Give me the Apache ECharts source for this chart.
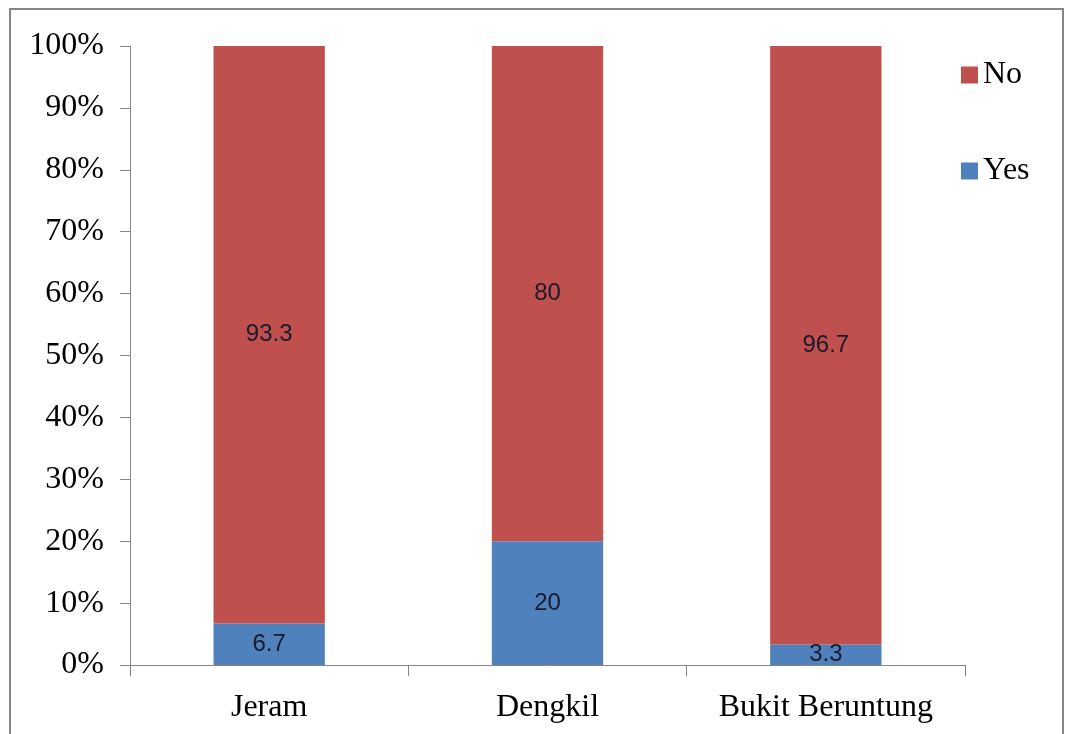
<!DOCTYPE html>
<html>
<head>
<meta charset="utf-8">
<script src="https://cdn.jsdelivr.net/npm/echarts@6/dist/echarts.min.js"></script>
<style>
html,body{margin:0;padding:0;background:#fff;}
#chart{width:1065px;height:734px;}
</style>
</head>
<body>
<div id="chart"></div>
<script>
const categories = ['Jeram', 'Dengkil', 'Bukit Beruntung'];
const yesValues = [6.7, 20, 3.3];
const noValues = [93.3, 80, 96.7];
const yTicks = [0, 10, 20, 30, 40, 50, 60, 70, 80, 90, 100];

const chart = echarts.init(document.getElementById('chart'));
const serif = '"Liberation Serif", "Times New Roman", serif';
const labelStyle = {
  show: true,
  position: 'inside',
  color: '#1a1a2e',
  fontFamily: '"Liberation Sans Narrow", "Liberation Sans", sans-serif',
  fontSize: 24
};
chart.setOption({
  animation: false,
  graphic: [{
    type: 'rect',
    shape: { x: 10, y: 9, width: 1053, height: 740 },
    style: { fill: 'none', stroke: '#868686', lineWidth: 2 },
    silent: true
  }],
  legend: {
    orient: 'vertical',
    left: 956,
    top: 54,
    itemWidth: 17,
    itemHeight: 17,
    itemGap: 64,
    icon: 'rect',
    data: ['No', 'Yes'],
    textStyle: { fontFamily: serif, fontSize: 32, color: '#000' }
  },
  grid: { left: 130, right: 100, top: 46, bottom: 69, containLabel: false },
  xAxis: {
    type: 'category',
    data: categories,
    axisLine: { lineStyle: { color: '#868686', width: 1 } },
    axisTick: { show: true, length: 11, lineStyle: { color: '#868686' } },
    axisLabel: { fontFamily: serif, fontSize: 32, color: '#000', margin: 27, interval: 0 }
  },
  yAxis: {
    type: 'value',
    min: 0,
    max: 100,
    interval: 10,
    axisLine: { show: true, lineStyle: { color: '#868686', width: 1 } },
    axisTick: { show: true, inside: false, length: 10, lineStyle: { color: '#868686' } },
    splitLine: { show: false },
    axisLabel: {
      fontFamily: serif, fontSize: 32, color: '#000', margin: 26,
      customValues: yTicks,
      formatter: v => v + '%'
    }
  },
  series: [
    {
      name: 'Yes', type: 'bar', stack: 'total', data: yesValues,
      barWidth: '40%',
      itemStyle: { color: '#4F81BD' },
      label: Object.assign({}, labelStyle, { formatter: p => String(p.value) })
    },
    {
      name: 'No', type: 'bar', stack: 'total', data: noValues,
      barWidth: '40%',
      itemStyle: { color: '#C0504D' },
      label: Object.assign({}, labelStyle, { formatter: p => String(p.value) })
    }
  ]
});
</script>
</body>
</html>
